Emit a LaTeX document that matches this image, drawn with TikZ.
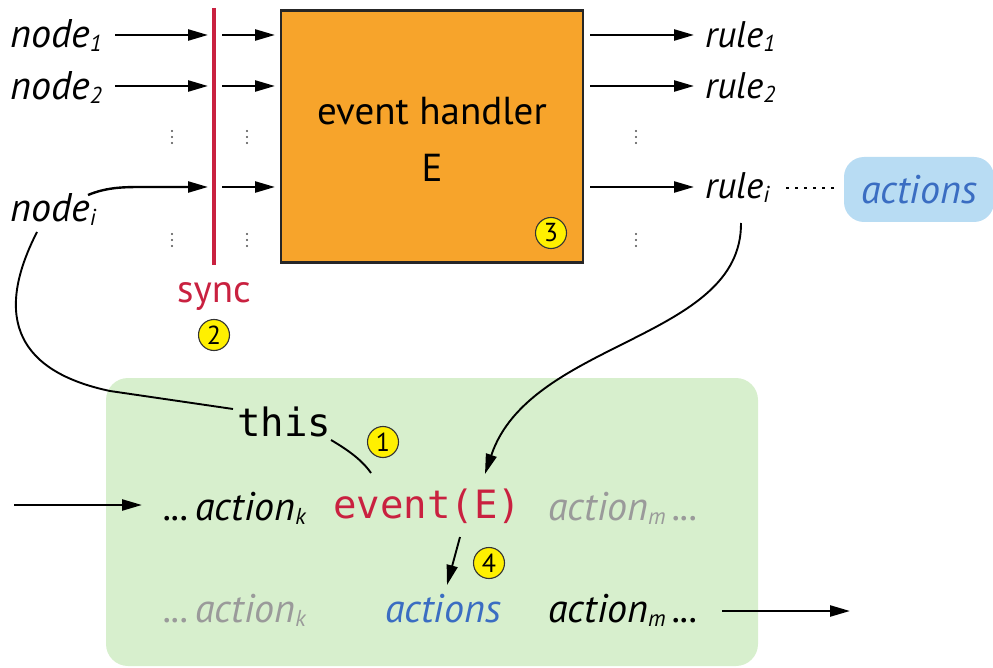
\documentclass[tikz,border=0pt]{standalone}
\usepackage{fontspec}
\setmainfont{PT Sans}
\setmonofont{DejaVu Sans Mono}
\usetikzlibrary{arrows.meta}
\definecolor{orangebox}{HTML}{F7A42B}
\definecolor{greenbox}{HTML}{D7EFCD}
\definecolor{bluebox}{HTML}{B8DCF3}
\definecolor{bluetext}{HTML}{3A6DC2}
\definecolor{redtext}{HTML}{C92140}
\definecolor{graytext}{HTML}{9A9A9A}
\definecolor{yellowc}{HTML}{FFF000}
\newcommand\mysub[1]{\raisebox{-4pt}{\fontsize{23}{23}\selectfont #1}}
\begin{document}
\begin{tikzpicture}[x=1pt,y=-1pt,
  arr/.style={line width=2.4pt,-{Triangle[length=20pt,width=11pt]}},
  conn/.style={line width=1.9pt},
  nlbl/.style={inner sep=0pt,anchor=base west,font=\fontsize{40}{42}\selectfont\itshape},
  rlbl/.style={inner sep=0pt,anchor=base west,font=\fontsize{37}{40}\selectfont\itshape},
  alb/.style={inner sep=0pt,anchor=base west,font=\fontsize{40}{42}\selectfont\itshape},
  mono/.style={inner sep=0pt,anchor=base west,font=\fontsize{39}{40}\ttfamily},
  numc/.style={circle,draw=black!80,line width=1.1pt,fill=yellowc,minimum size=31pt,inner sep=0pt,font=\fontsize{26}{26}\selectfont},
  vdots/.style={fill=black!70}
]
\useasboundingbox (0,0) rectangle (993,668);

% green background
\fill[greenbox, rounded corners=22pt] (106,378) rectangle (758,666);

% left labels
\node[nlbl] (n1) at (10,48) {node\mysub{1}};
\node[nlbl] (n2) at (10,100) {node\mysub{2}};
\node[nlbl] (ni) at (10,222) {node\mysub{i}};

% sync line
\draw[redtext, line width=4pt] (214,8) coordinate (stop) -- (214,265) coordinate (sbot);
\node[inner sep=0pt, anchor=base, text=redtext, font=\fontsize{39}{42}\selectfont] (sync) at (214,302) {sync};
\node[numc] (c2) at (214,335) {2};

% event handler box
\node[draw=black!85, line width=2.8pt, fill=orangebox, minimum width=302pt, minimum height=252pt, inner sep=0pt] (eh) at (432,136.5) {};
\node[align=center, inner sep=0pt, font=\fontsize{39}{57}\selectfont] (ehtxt) at (432,139) {event handler\\E};
\node[numc] (c3) at (551,233) {3};

% arrow coordinates
\coordinate (a1s) at (115,35); \coordinate (a1e) at (208,35);
\coordinate (a2s) at (115,86); \coordinate (a2e) at (208,86);
\coordinate (ais) at (88,195); \coordinate (aie) at (208,187);
\coordinate (b1s) at (222,35); \coordinate (b1e) at (275,35);
\coordinate (b2s) at (222,86); \coordinate (b2e) at (275,86);
\coordinate (bis) at (222,187); \coordinate (bie) at (275,187);
\coordinate (o1s) at (590,35); \coordinate (o1e) at (694,35);
\coordinate (o2s) at (590,86); \coordinate (o2e) at (694,86);
\coordinate (ois) at (590,187); \coordinate (oie) at (694,187);

\draw[arr] (a1s) -- (a1e);
\draw[arr] (a2s) -- (a2e);
\draw[arr] (ais) .. controls (105,188) and (120,187) .. (140,187) -- (aie);
\draw[arr] (b1s) -- (b1e);
\draw[arr] (b2s) -- (b2e);
\draw[arr] (bis) -- (bie);
\draw[arr] (o1s) -- (o1e);
\draw[arr] (o2s) -- (o2e);
\draw[arr] (ois) -- (oie);

% vertical dots
\foreach \x in {172,247,636} {
  \foreach \y in {131,137,143,234,240,246} {
    \fill[vdots] (\x,\y) circle (1.2);
  }
}

% right labels
\node[rlbl] (r1) at (705,48) {rule\mysub{1}};
\node[rlbl] (r2) at (705,99) {rule\mysub{2}};
\node[rlbl] (ri) at (705,199) {rule\mysub{i}};

% actions box top right
\node[fill=bluebox, rounded corners=20pt, minimum width=150pt, minimum height=65pt, inner sep=0pt, text=bluetext, font=\fontsize{40}{42}\selectfont\itshape] (acttop) at (919,189.5) {actions};
\coordinate (dots1) at (786,188);
\coordinate (dots2) at (834,188);
\draw[line width=2.6pt, dash pattern=on 2.6pt off 6.4pt] (dots1) -- (dots2);

% lower texts
\node[mono] (this) at (237,436) {this};
\node[numc] (c1) at (383,442) {1};
\node[mono, text=redtext] (ev) at (333,518) {event(E)};
\node[alb, anchor=base east] (ak1) at (306,520) {...\,action\mysub{k}};
\node[alb, text=graytext] (am1) at (548,520) {action\mysub{m}\,...};
\node[alb, anchor=base east, text=graytext] (ak2) at (306,622) {...\,action\mysub{k}};
\node[alb, text=bluetext, anchor=base] (act2) at (443,622) {actions};
\node[alb] (am2) at (548,622) {action\mysub{m}\,...};
\node[numc] (c4) at (489,563) {4};

% connectors
\coordinate (nistart) at (37,232);
\coordinate (thisl) at (233,409);
\draw[conn] (nistart) .. controls (-8,320) and (20,372) .. (110,391) -- (thisl);
\coordinate (thisr) at (331,440);
\coordinate (evtop) at (371,473);
\draw[conn] (thisr) .. controls (348,450) and (362,460) .. (evtop);
\coordinate (ristart) at (741,223);
\coordinate (evtip) at (485,474);
\draw[arr, line width=1.9pt] (ristart) .. controls (742,340) and (530,340) .. (evtip);
\coordinate (ev4s) at (460,537);
\coordinate (ev4e) at (447,585);
\draw[arr, line width=1.9pt] (ev4s) -- (ev4e);
\coordinate (inl) at (14,505);
\coordinate (inr) at (142,505);
\draw[arr] (inl) -- (inr);
\coordinate (outl) at (722,611);
\coordinate (outr) at (850,611);
\draw[arr] (outl) -- (outr);
\end{tikzpicture}
\end{document}
